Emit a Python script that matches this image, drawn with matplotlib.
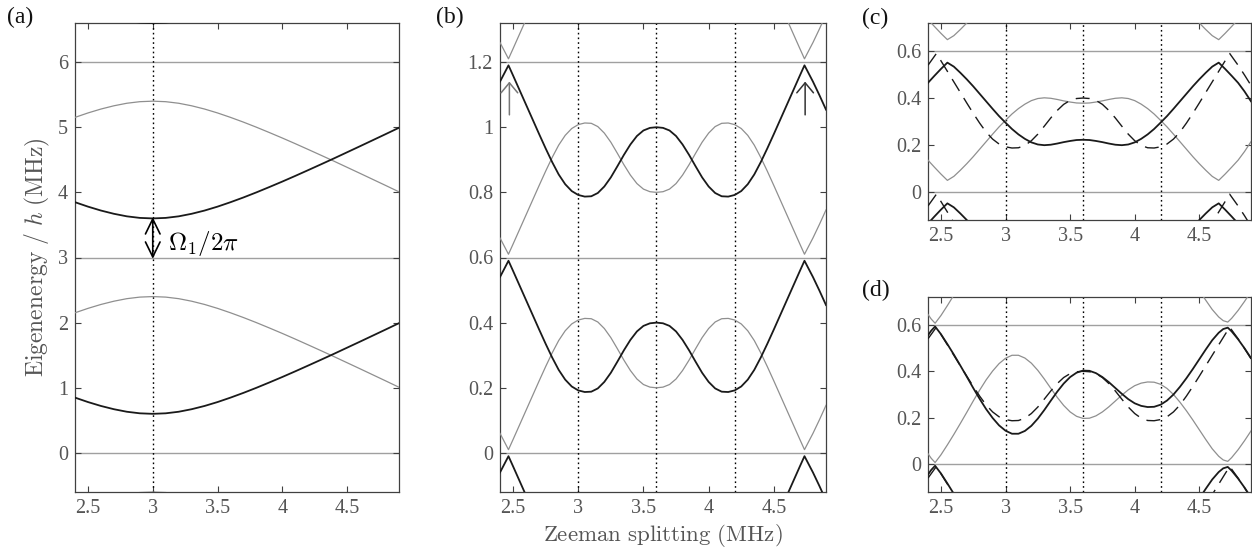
import numpy as np
import matplotlib.pyplot as plt
from matplotlib.ticker import FuncFormatter

plt.rcParams['font.family'] = ['Liberation Serif', 'DejaVu Serif']
plt.rcParams['mathtext.fontset'] = 'cm'

# (a) one Floquet zone, copies every 3 MHz
xa = [2.4, 2.5, 2.6, 2.7, 2.8, 2.9, 3.0, 3.1, 3.2, 3.3, 3.4, 3.5, 3.6,
      3.7, 3.8, 3.9, 4.0, 4.1, 4.2, 4.3, 4.4, 4.5, 4.6, 4.7, 4.8, 4.9]
black_a = [0.849, 0.781, 0.721, 0.671, 0.632, 0.608, 0.600, 0.608, 0.632, 0.671, 0.721, 0.781, 0.849,
           0.922, 1.000, 1.082, 1.166, 1.253, 1.342, 1.432, 1.523, 1.616, 1.709, 1.803, 1.897, 1.992]
gray_a = [2.151, 2.219, 2.279, 2.329, 2.368, 2.392, 2.400, 2.392, 2.368, 2.329, 2.279, 2.219, 2.151,
          2.078, 2.000, 1.918, 1.834, 1.747, 1.658, 1.568, 1.477, 1.384, 1.291, 1.197, 1.103, 1.008]
zone_a = 3.0

# (b) zone of 0.6 MHz, also the dashed reference in (c) and (d)
xb = [2.40, 2.43, 2.465, 2.50, 2.55, 2.60, 2.65, 2.70, 2.75, 2.80, 2.85, 2.90, 2.95,
      3.00, 3.05, 3.10, 3.15, 3.20, 3.25, 3.30, 3.35, 3.40, 3.45, 3.50, 3.55, 3.60,
      3.65, 3.70, 3.75, 3.80, 3.85, 3.90, 3.95, 4.00, 4.05, 4.10, 4.15, 4.20, 4.25,
      4.30, 4.35, 4.40, 4.45, 4.50, 4.55, 4.60, 4.65, 4.70, 4.735, 4.77, 4.80, 4.85, 4.90]
black_b = [0.540, 0.563, 0.590, 0.559, 0.514, 0.469, 0.424, 0.379, 0.335, 0.293, 0.255, 0.225, 0.204,
           0.192, 0.187, 0.188, 0.198, 0.218, 0.246, 0.280, 0.315, 0.347, 0.373, 0.390, 0.398, 0.400,
           0.398, 0.390, 0.373, 0.347, 0.315, 0.280, 0.246, 0.218, 0.198, 0.188, 0.187, 0.192, 0.204,
           0.225, 0.255, 0.293, 0.335, 0.379, 0.424, 0.469, 0.514, 0.559, 0.590, 0.563, 0.540, 0.498, 0.454]
gray_b = [0.060, 0.037, 0.010, 0.041, 0.086, 0.131, 0.176, 0.221, 0.265, 0.307, 0.345, 0.375, 0.396,
          0.408, 0.413, 0.412, 0.402, 0.382, 0.354, 0.320, 0.285, 0.253, 0.227, 0.210, 0.202, 0.200,
          0.202, 0.210, 0.227, 0.253, 0.285, 0.320, 0.354, 0.382, 0.402, 0.412, 0.413, 0.408, 0.396,
          0.375, 0.345, 0.307, 0.265, 0.221, 0.176, 0.131, 0.086, 0.041, 0.010, 0.037, 0.060, 0.102, 0.146]
zone_b = 0.6

xc = [2.40, 2.45, 2.50, 2.55, 2.60, 2.65, 2.70, 2.75, 2.80, 2.85, 2.90, 2.95, 3.00,
      3.05, 3.10, 3.15, 3.20, 3.25, 3.30, 3.35, 3.40, 3.45, 3.50, 3.55, 3.60, 3.65,
      3.70, 3.75, 3.80, 3.85, 3.90, 3.95, 4.00, 4.05, 4.10, 4.15, 4.20, 4.25, 4.30,
      4.35, 4.40, 4.45, 4.50, 4.55, 4.60, 4.65, 4.70, 4.75, 4.80, 4.85, 4.90]
black_c = [0.465, 0.495, 0.524, 0.551, 0.534, 0.508, 0.480, 0.450, 0.418, 0.386, 0.354, 0.323, 0.295,
           0.268, 0.245, 0.226, 0.211, 0.202, 0.199, 0.201, 0.206, 0.212, 0.217, 0.221, 0.222, 0.221,
           0.217, 0.212, 0.206, 0.201, 0.199, 0.202, 0.211, 0.226, 0.245, 0.268, 0.295, 0.323, 0.354,
           0.386, 0.418, 0.450, 0.480, 0.508, 0.534, 0.551, 0.524, 0.495, 0.465, 0.428, 0.386]
gray_c = [0.135, 0.105, 0.076, 0.049, 0.066, 0.092, 0.120, 0.150, 0.182, 0.214, 0.246, 0.277, 0.305,
          0.332, 0.355, 0.374, 0.389, 0.398, 0.401, 0.399, 0.394, 0.388, 0.383, 0.379, 0.378, 0.379,
          0.383, 0.388, 0.394, 0.399, 0.401, 0.398, 0.389, 0.374, 0.355, 0.332, 0.305, 0.277, 0.246,
          0.214, 0.182, 0.150, 0.120, 0.092, 0.066, 0.049, 0.076, 0.105, 0.135, 0.172, 0.214]

xd = [2.40, 2.425, 2.455, 2.50, 2.55, 2.60, 2.65, 2.70, 2.75, 2.80, 2.85, 2.90, 2.95,
      3.00, 3.05, 3.10, 3.15, 3.20, 3.25, 3.30, 3.35, 3.40, 3.45, 3.50, 3.55, 3.60,
      3.65, 3.70, 3.75, 3.80, 3.85, 3.90, 3.95, 4.00, 4.05, 4.10, 4.15, 4.20, 4.25,
      4.30, 4.35, 4.40, 4.45, 4.50, 4.55, 4.60, 4.65, 4.685, 4.72, 4.75, 4.80, 4.85, 4.90]
black_d = [0.555, 0.575, 0.593, 0.560, 0.517, 0.472, 0.425, 0.377, 0.328, 0.281, 0.237, 0.199, 0.167,
           0.144, 0.131, 0.131, 0.143, 0.165, 0.196, 0.233, 0.273, 0.312, 0.347, 0.375, 0.394, 0.403,
           0.402, 0.392, 0.375, 0.353, 0.328, 0.303, 0.280, 0.262, 0.251, 0.246, 0.247, 0.256, 0.274,
           0.300, 0.333, 0.370, 0.410, 0.452, 0.494, 0.534, 0.566, 0.582, 0.588, 0.572, 0.538, 0.499, 0.457]
gray_d = [0.045, 0.025, 0.007, 0.040, 0.083, 0.128, 0.175, 0.223, 0.272, 0.319, 0.363, 0.401, 0.433,
          0.456, 0.469, 0.469, 0.457, 0.435, 0.404, 0.367, 0.327, 0.288, 0.253, 0.225, 0.206, 0.197,
          0.198, 0.208, 0.225, 0.247, 0.272, 0.297, 0.320, 0.338, 0.349, 0.354, 0.353, 0.344, 0.326,
          0.300, 0.267, 0.230, 0.190, 0.148, 0.106, 0.066, 0.034, 0.018, 0.012, 0.028, 0.062, 0.101, 0.143]

xticks = [2.5, 3, 3.5, 4, 4.5]
dotted_x = [3.0, 3.6, 4.2]

BLACK = '#1a1a1a'
GRAY = '#8f8f8f'
HLINE = '#a0a0a0'
AXC = '#404040'


def style(ax, ylim, yticks):
    ax.set_xlim(2.4, 4.9)
    ax.set_ylim(*ylim)
    ax.set_xticks(xticks)
    ax.set_yticks(yticks)
    fmt = FuncFormatter(lambda v, p: f"{v:g}")
    ax.xaxis.set_major_formatter(fmt)
    ax.yaxis.set_major_formatter(fmt)
    ax.tick_params(direction='in', top=True, right=True, length=4, width=0.8,
                   colors=AXC, labelcolor='#555555', labelsize=14.5, pad=5)
    for s in ax.spines.values():
        s.set_color(AXC)
        s.set_linewidth(0.9)


def bands(ax, x, black, gray, zone, shifts, dashed=None):
    for k in shifts:
        ax.plot(x, np.array(gray) + k * zone, color=GRAY, lw=0.9, zorder=3)
    if dashed is not None:
        for k in shifts:
            ax.plot(dashed[0], np.array(dashed[1]) + k * zone, color=BLACK, lw=1.0,
                    dashes=(10, 6), zorder=4)
    for k in shifts:
        ax.plot(x, np.array(black) + k * zone, color=BLACK, lw=1.3, zorder=5)


fig = plt.figure(figsize=(12.52, 5.54), dpi=100)

# (a)
axa = fig.add_axes([75 / 1252, 62 / 554, 324 / 1252, 469 / 554])
for h in [0, 3, 6]:
    axa.axhline(h, color=HLINE, lw=1.0, zorder=1)
axa.axvline(3.0, color='k', lw=1.0, ls=(0, (1.2, 2.2)), zorder=2)
bands(axa, xa, black_a, gray_a, zone_a, [-1, 0, 1, 2])
style(axa, (-0.6, 6.6), [0, 1, 2, 3, 4, 5, 6])
axa.annotate('', xy=(3.0, 2.98), xytext=(3.0, 3.62),
             arrowprops=dict(arrowstyle='<->,head_length=0.43,head_width=0.21',
                             color='k', lw=1.2, mutation_scale=25,
                             shrinkA=0, shrinkB=0), zorder=6)
axa.text(3.115, 3.22, r'$\Omega_1/2\pi$', fontsize=18, va='center', ha='left', zorder=6)
axa.set_ylabel(r'$\mathrm{Eigenenergy\ /\ }h\mathrm{\ (MHz)}$', fontsize=17, color='#555555')
axa.yaxis.set_label_coords(-0.072, 0.5)

# (b)
axb = fig.add_axes([500 / 1252, 62 / 554, 326 / 1252, 469 / 554])
for h in [0, 0.6, 1.2]:
    axb.axhline(h, color=HLINE, lw=1.0, zorder=1)
for xv in dotted_x:
    axb.axvline(xv, color='k', lw=1.0, ls=(0, (1.2, 2.2)), zorder=2)
bands(axb, xb, black_b, gray_b, zone_b, [-1, 0, 1, 2])
style(axb, (-0.12, 1.32), [0, 0.2, 0.4, 0.6, 0.8, 1, 1.2])
axb.annotate('', xy=(2.472, 1.14), xytext=(2.472, 1.038),
             arrowprops=dict(arrowstyle='->,head_length=0.36,head_width=0.3',
                             color='#777777', lw=1.1, mutation_scale=20,
                             shrinkA=0, shrinkB=0), zorder=6)
axb.annotate('', xy=(4.74, 1.14), xytext=(4.74, 1.038),
             arrowprops=dict(arrowstyle='->,head_length=0.36,head_width=0.3',
                             color='#333333', lw=1.1, mutation_scale=20,
                             shrinkA=0, shrinkB=0), zorder=6)
axb.set_xlabel(r'$\mathrm{Zeeman\ splitting\ (MHz)}$', fontsize=16.5, color='#555555', labelpad=3)

# (c)
axc = fig.add_axes([928 / 1252, 334 / 554, 323 / 1252, 197 / 554])
for h in [0, 0.6]:
    axc.axhline(h, color=HLINE, lw=1.0, zorder=1)
for xv in dotted_x:
    axc.axvline(xv, color='k', lw=1.0, ls=(0, (1.2, 2.2)), zorder=2)
bands(axc, xc, black_c, gray_c, zone_b, [-1, 0, 1], dashed=(xb, black_b))
style(axc, (-0.12, 0.72), [0, 0.2, 0.4, 0.6])

# (d)
axd = fig.add_axes([928 / 1252, 62 / 554, 323 / 1252, 195 / 554])
for h in [0, 0.6]:
    axd.axhline(h, color=HLINE, lw=1.0, zorder=1)
for xv in dotted_x:
    axd.axvline(xv, color='k', lw=1.0, ls=(0, (1.2, 2.2)), zorder=2)
bands(axd, xd, black_d, gray_d, zone_b, [-1, 0, 1], dashed=(xb, black_b))
style(axd, (-0.12, 0.72), [0, 0.2, 0.4, 0.6])

for lab, px, py in [('(a)', 7, 7), ('(b)', 436, 7), ('(c)', 862, 8), ('(d)', 862, 280)]:
    fig.text(px / 1252, 1 - py / 554, lab, fontsize=17, ha='left', va='top', color='#111111')

fig.savefig('out.png', dpi=100)
